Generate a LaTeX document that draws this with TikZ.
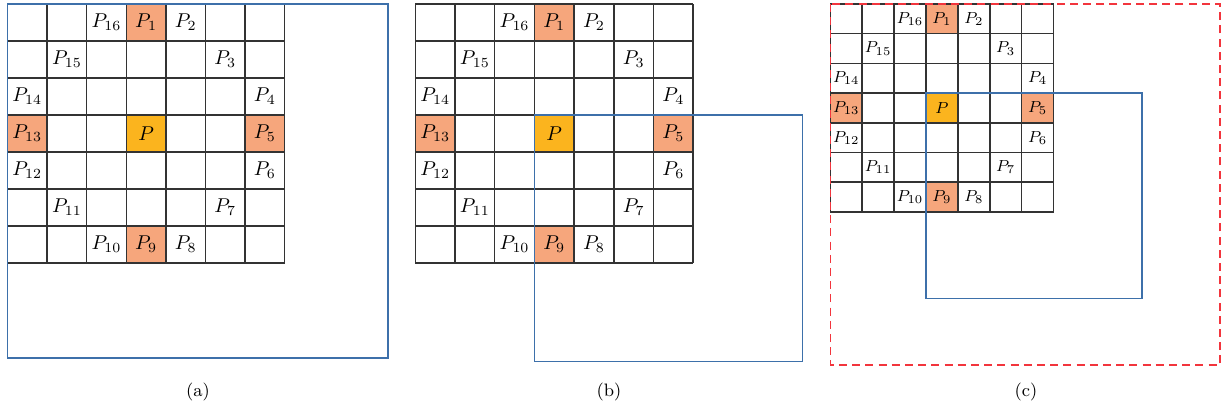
\documentclass[tikz,border=0pt]{standalone}
\usepackage{xcolor}
\usepackage{tikz}
\usetikzlibrary{positioning}

\definecolor{ringfill}{HTML}{F6A67C}
\definecolor{centrefill}{HTML}{FBB41E}
\definecolor{winblue}{HTML}{3D70AA}
\definecolor{winred}{HTML}{F2353D}

\tikzset{
  gridline/.style={draw=black!80, line width=0.75pt},
  winline/.style={draw=winblue, line width=0.7pt},
  outerwin/.style={draw=winred, line width=0.7pt, dash pattern=on 4pt off 2.6pt},
  plabel/.style={inner sep=0pt},
  caption/.style={font=\small}
}

% one 7x7 neighbourhood: #1 name, #2 shift, #3 cell width, #4 cell height, #5 font
\newcommand{\ringpanel}[5]{%
  \begin{scope}[shift={#2}, x=#3, y=-#4, every node/.append style={font=#5}]
    \fill[ringfill] (3,0) rectangle (4,1) (6,3) rectangle (7,4)
                    (3,6) rectangle (4,7) (0,3) rectangle (1,4);
    \fill[centrefill] (3,3) rectangle (4,4);
    \foreach \i in {0,...,7} {
      \draw[gridline] (\i,0) -- (\i,7);
      \draw[gridline] (0,\i) -- (7,\i);
    }
    \coordinate (#1-nw) at (0,0);
    \coordinate (#1-pc) at (3,3);
    \foreach \c/\r/\k in {3/0/1,4/0/2,5/1/3,6/2/4,6/3/5,6/4/6,5/5/7,4/6/8,
                          3/6/9,2/6/10,1/5/11,0/4/12,0/3/13,0/2/14,1/1/15,2/0/16}
      \node[plabel] (#1-\k) at (\c+0.5,\r+0.5) {$P_{\k}$};
    \node[plabel] (#1-p) at (3.5,3.5) {$P$};
  \end{scope}}

\begin{document}
\begin{tikzpicture}[x=0.5pt, y=-0.5pt]
  \useasboundingbox (0,0) rectangle (1221,409);

  % (a)
  \ringpanel{a}{(7.5,4)}{19.8pt}{18.5pt}{\normalsize}
  \coordinate (a-se) at (388,358);
  \draw[winline] (a-nw) rectangle (a-se);
  \node[caption] (capa) at (198,392) {(a)};

  % (b)
  \ringpanel{b}{(415.3,4)}{19.85pt}{18.5pt}{\normalsize}
  \coordinate (b-se) at (802.7,361.7);
  \draw[winline] (b-pc) rectangle (b-se);
  \node[caption] (capb) at (609,392) {(b)};

  % (c)
  \ringpanel{c}{(830.3,4)}{15.95pt}{14.85pt}{\footnotesize}
  \coordinate (c-se) at (1142,298.3);
  \coordinate (c-far) at (1220,365);
  \draw[winline] (c-pc) rectangle (c-se);
  \draw[outerwin] (c-nw) rectangle (c-far);
  \node[caption] (capc) at (1026,392) {(c)};
\end{tikzpicture}
\end{document}
